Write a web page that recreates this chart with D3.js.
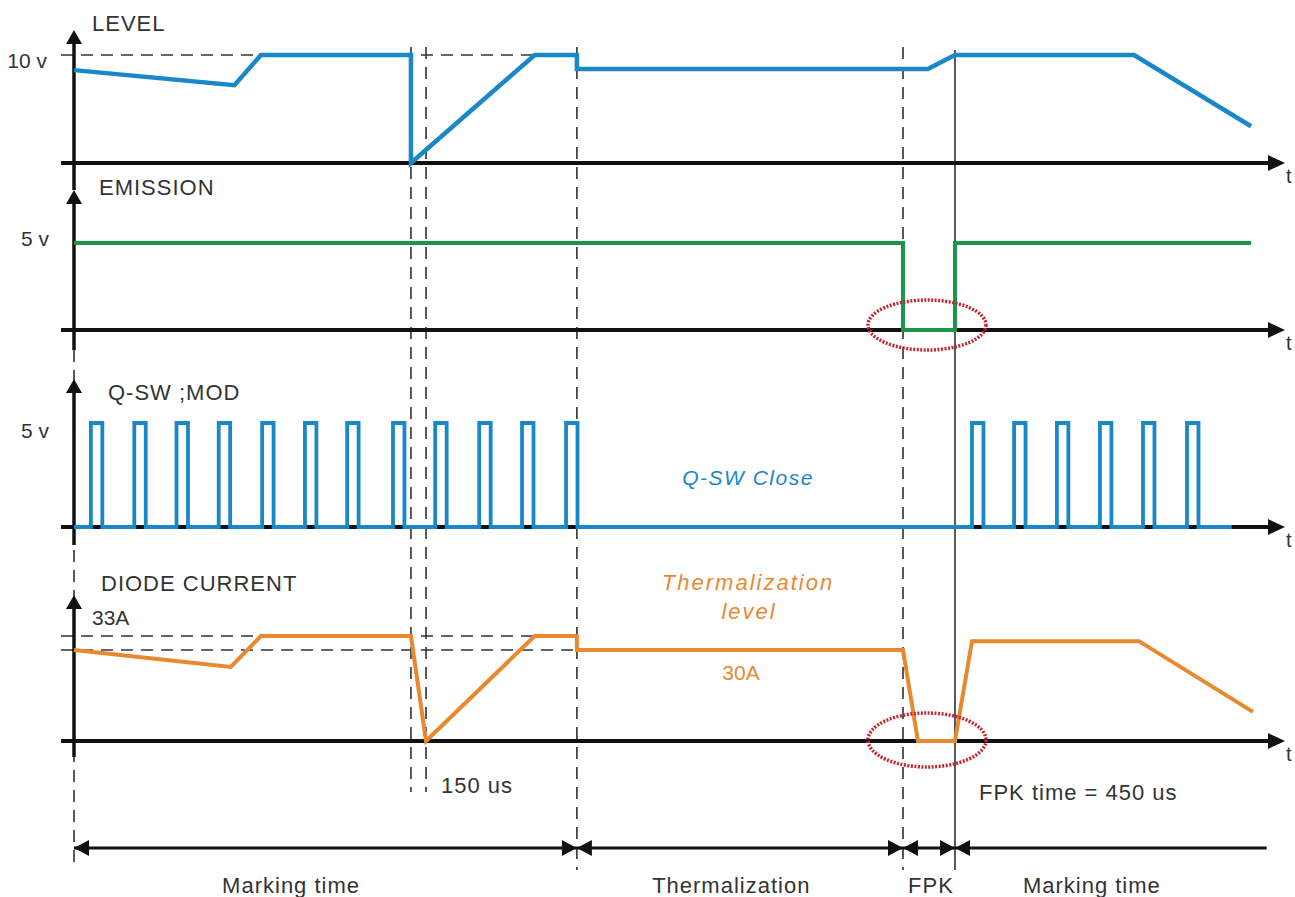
<!DOCTYPE html>
<html>
<head>
<meta charset="utf-8">
<script src="https://cdn.jsdelivr.net/npm/d3@7"></script>
<style>
  body { margin: 0; background: #fff; }
  text { font-family: "Liberation Sans", Arial, sans-serif; fill: #333; }
</style>
</head>
<body>
<div id="chart"></div>
<script>
// time is in arbitrary units (not to scale), 0..1000 across the chart
var levelData = [[0, 8.6], [133, 7.2], [155, 10], [279.4, 10], [279.4, 0], [382, 10], [417, 10], [417, 8.7], [708, 8.7], [730.5, 10], [879, 10], [976, 3.4]]
var emissionData = [[0, 5], [687.4, 5], [687.4, 0], [730.5, 0], [730.5, 5], [976, 5]]
var pulseStarts = [14, 50, 85, 120, 156, 191.5, 226.5, 264.5, 299.5, 336, 371.5, 408, 744.6, 779.5, 815, 850.7, 886.4, 922.9]
var pulseWidth = 9.5
var pulseHigh = 5
var qswEnd = 960
var currentData = [[0, 30], [130, 24.4], [155, 33], [279.4, 33], [291.9, 0], [382, 33], [417, 33], [417, 30], [687.4, 30], [699.8, 0], [730.5, 0], [744.6, 31.9], [883, 31.9], [977.6, 9.6]]

var phases = ['Marking time', 'Thermalization', 'FPK', 'Marking time']
var phaseBounds = [[0, 417], [417, 687.4], [687.4, 730.5], [730.5, 989]]
var phaseLabelAt = [180, 545, 710.6, 844]

var levelTicks = [10], emissionTicks = [5], qswTicks = [5]
var currentTicks = [33, 30]

var blue = '#1a87c9', green = '#1c944b', orange = '#e8892f', red = '#c4262e'

var svg = d3.select('#chart').append('svg').attr('width', 1295).attr('height', 897)

var x = d3.scaleLinear().domain([0, 1000]).range([74, 1280])
var yLevel = d3.scaleLinear().domain([0, 10]).range([163, 55])
var yEm = d3.scaleLinear().domain([0, 5]).range([330, 243])
var yQ = d3.scaleLinear().domain([0, 5]).range([527, 423])
var yCur = d3.scaleLinear().domain([0, 30, 33]).range([741, 650, 636])

// vertical guide lines
function vguide(t, y1, y2, dashed){
  svg.append('line')
    .attr('x1', x(t)).attr('x2', x(t)).attr('y1', y1).attr('y2', y2)
    .attr('stroke', '#222').attr('stroke-width', 1.5)
    .attr('stroke-dasharray', dashed ? '12,8' : null)
}
vguide(0, 350, 870, true)
vguide(279.4, 47, 792, true)
vguide(291.9, 47, 792, true)
vguide(417, 47, 870, true)
vguide(687.4, 47, 870, true)
vguide(730.5, 50, 870, false)

// horizontal dashed reference lines
svg.append('line').attr('x1', 61).attr('x2', x(417)).attr('y1', yLevel(10)).attr('y2', yLevel(10))
  .attr('stroke', '#333').attr('stroke-width', 1.5).attr('stroke-dasharray', '12,8')
currentTicks.forEach(function(v){
  svg.append('line').attr('x1', 61).attr('x2', x(417)).attr('y1', yCur(v)).attr('y2', yCur(v))
    .attr('stroke', '#333').attr('stroke-width', 1.5).attr('stroke-dasharray', '12,8')
})

// axes
var panels = [
  {y: yLevel, tip: 30, bottom: 190, title: 'LEVEL', tx: 92, ty: 23},
  {y: yEm, tip: 190, bottom: 350, title: 'EMISSION', tx: 99, ty: 187},
  {y: yQ, tip: 379, bottom: 545, title: 'Q-SW ;MOD', tx: 108, ty: 392},
  {y: yCur, tip: 595, bottom: 757, title: 'DIODE CURRENT', tx: 101, ty: 583}
]
panels.forEach(function(p){
  var base = p.y(0)
  svg.append('line').attr('x1', 61).attr('x2', 1270).attr('y1', base).attr('y2', base)
    .attr('stroke', '#111').attr('stroke-width', 4)
  svg.append('path').attr('d', 'M1268,' + (base - 8) + 'L1285,' + base + 'L1268,' + (base + 8) + 'Z').attr('fill', '#111')
  svg.append('text').attr('x', 1286).attr('y', base + 20).attr('font-size', 20).text('t')
  svg.append('line').attr('x1', x(0)).attr('x2', x(0)).attr('y1', p.tip + 10).attr('y2', p.bottom)
    .attr('stroke', '#111').attr('stroke-width', 3.5)
  svg.append('path').attr('d', 'M' + (x(0) - 8) + ',' + (p.tip + 14) + 'L' + x(0) + ',' + p.tip + 'L' + (x(0) + 8) + ',' + (p.tip + 14) + 'Z').attr('fill', '#111')
  svg.append('text').attr('x', p.tx).attr('y', p.ty).attr('dy', '0.35em')
    .attr('font-size', 22).attr('letter-spacing', 1).text(p.title)
})

function tickAxis(scale, vals, fmt, pad, dy){
  var g = svg.append('g').attr('transform', 'translate(' + x(0) + ',0)')
    .call(d3.axisLeft(scale).tickValues(vals).tickFormat(fmt).tickSize(0).tickPadding(pad))
  g.select('.domain').remove()
  g.selectAll('text').attr('font-size', 21).attr('font-family', '"Liberation Sans", Arial, sans-serif')
    .attr('fill', '#333').attr('dy', dy)
}
tickAxis(yLevel, levelTicks, function(d){ return d + ' v' }, 27, '0.6em')
tickAxis(yEm, emissionTicks, function(d){ return d + ' v' }, 25, '0.1em')
tickAxis(yQ, qswTicks, function(d){ return d + ' v' }, 25, '0.7em')
svg.append('text').attr('x', 92).attr('y', yCur(33) - 18).attr('dy', '0.35em').attr('font-size', 21).text(currentTicks[0] + 'A')

// signals
var line = d3.line().x(function(d){ return x(d[0]) })
function signal(data, y, color, w){
  svg.append('path').datum(data)
    .attr('d', line.y(function(d){ return y(d[1]) }))
    .attr('fill', 'none').attr('stroke', color).attr('stroke-width', w)
    .attr('stroke-linejoin', 'miter')
}
signal(levelData, yLevel, blue, 4.5)
signal(emissionData, yEm, green, 4)

var qswData = [[0, 0]]
pulseStarts.forEach(function(t){
  qswData.push([t, 0], [t, pulseHigh], [t + pulseWidth, pulseHigh], [t + pulseWidth, 0])
})
qswData.push([qswEnd, 0])
signal(qswData, yQ, blue, 3.8)
signal(currentData, yCur, orange, 4)

// highlight ellipses around FPK
;[[yEm, -5, 25], [yCur, -1, 27]].forEach(function(e){
  svg.append('ellipse').attr('cx', x(707.3)).attr('cy', e[0](0) + e[1])
    .attr('rx', 59).attr('ry', e[2])
    .attr('fill', 'none').attr('stroke', red).attr('stroke-width', 3.5).attr('stroke-dasharray', '2,1.5')
})

// annotations
svg.append('text').attr('x', 748).attr('y', 478).attr('dy', '0.35em').attr('text-anchor', 'middle')
  .attr('font-size', 21).attr('font-style', 'italic').attr('letter-spacing', 1.5).style('fill', blue).text('Q-SW Close')
svg.append('text').attr('x', 748).attr('y', 582).attr('dy', '0.35em').attr('text-anchor', 'middle')
  .attr('font-size', 22).attr('font-style', 'italic').attr('letter-spacing', 2).style('fill', orange).text('Thermalization')
svg.append('text').attr('x', 749).attr('y', 611).attr('dy', '0.35em').attr('text-anchor', 'middle')
  .attr('font-size', 22).attr('font-style', 'italic').attr('letter-spacing', 2).style('fill', orange).text('level')
svg.append('text').attr('x', 741).attr('y', 673).attr('dy', '0.35em').attr('text-anchor', 'middle')
  .attr('font-size', 21).style('fill', orange).text(currentTicks[1] + 'A')
svg.append('text').attr('x', 441).attr('y', 785).attr('dy', '0.35em').attr('font-size', 22).attr('letter-spacing', 1).text('150 us')
svg.append('text').attr('x', 979).attr('y', 792).attr('dy', '0.35em').attr('font-size', 22).attr('letter-spacing', 1).text('FPK time = 450 us')

// phase dimension arrows
var dimY = 848
phaseBounds.forEach(function(b, i){
  var x1 = x(b[0]), x2 = x(b[1]), last = i == phaseBounds.length - 1
  svg.append('line').attr('x1', x1).attr('x2', x2).attr('y1', dimY).attr('y2', dimY)
    .attr('stroke', '#111').attr('stroke-width', 3)
  svg.append('path').attr('d', 'M' + x1 + ',' + dimY + 'L' + (x1 + 15) + ',' + (dimY - 8) + 'L' + (x1 + 15) + ',' + (dimY + 8) + 'Z').attr('fill', '#111')
  if (!last) svg.append('path').attr('d', 'M' + x2 + ',' + dimY + 'L' + (x2 - 15) + ',' + (dimY - 8) + 'L' + (x2 - 15) + ',' + (dimY + 8) + 'Z').attr('fill', '#111')
  svg.append('text').attr('x', x(phaseLabelAt[i])).attr('y', 885).attr('dy', '0.35em').attr('text-anchor', 'middle')
    .attr('font-size', 22).attr('letter-spacing', 1).text(phases[i])
})
</script>
</body>
</html>
